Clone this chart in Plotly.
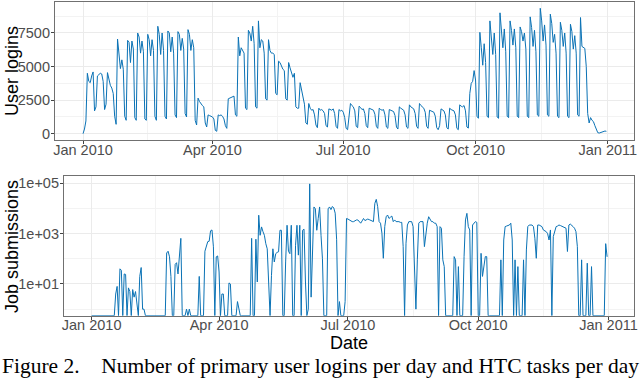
import pandas as pd
import plotly.graph_objects as go

# Daily values, 1 Jan 2010 (a Friday) to 31 Dec 2010, one week (Mon-Sun) per row

logins = [
    0, 350, 950,
    4500, 3900, 3800, 4300, 4600, 1700, 2000,   # Jan 4
    4300, 4400, 4500, 4450, 3900, 1800, 2200,
    4550, 4000, 3600, 3400, 3000, 1300, 700,
    7050, 5700, 4850, 5500, 4800, 1300, 1000,
    6950, 6800, 5300, 6900, 6300, 1200, 1000,   # Feb 1
    7500, 7200, 6000, 6900, 6100, 1100, 1000,
    7400, 7000, 5800, 7000, 6200, 1300, 1000,
    8000, 7400, 5900, 7500, 6200, 1300, 1100,
    7650, 7500, 6100, 7200, 6000, 1400, 1200,   # Mar 1
    7600, 7400, 6200, 7100, 6300, 1500, 1250,
    7750, 7400, 6200, 7000, 6400, 1000, 650,
    2650, 2400, 2200, 2100, 2000, 800, 500,
    1400, 1350, 1300, 1250, 1100, 250, 180,
    1400, 1350, 1400, 1300, 1100, 600, 400,     # Apr 5
    2600, 2650, 2700, 2750, 2800, 1400, 1300,
    7200, 5800, 6400, 6200, 6000, 1900, 1800,
    7700, 7500, 6900, 8000, 6700, 2000, 1900,
    8400, 6400, 7000, 6900, 6000, 2600, 2500,   # May 3
    7000, 6200, 6000, 6000, 5900, 3000, 2900,
    5400, 5300, 5000, 4800, 4700, 2600, 2500,
    5300, 4900, 4600, 4200, 4500, 2000, 1900,
    1900, 3800, 3200, 2600, 2200, 800, 700,
    2250, 1900, 1750, 1800, 1400, 650, 450,     # Jun 7
    1900, 1750, 1800, 1700, 1500, 600, 500,
    1850, 1800, 1750, 1850, 1500, 550, 400,
    1800, 1700, 1750, 1600, 1200, 400, 300,
    1300, 2250, 2100, 2000, 1700, 550, 450,     # Jul 5
    2050, 1950, 1800, 1850, 1500, 600, 450,
    1900, 1850, 1800, 1750, 1450, 550, 400,
    1900, 1800, 1750, 1800, 1400, 500, 400,
    1800, 1750, 1700, 1650, 1350, 500, 350,     # Aug 2
    2000, 1900, 1800, 1750, 1400, 500, 400,
    2150, 2000, 1900, 1850, 1500, 550, 400,
    2250, 2100, 2000, 1900, 1600, 550, 400,
    1750, 1700, 1650, 1600, 1300, 450, 300,
    600, 1850, 1800, 1700, 1400, 450, 350,      # Sep 6
    1900, 1800, 1750, 1700, 1400, 400, 300,
    2150, 2050, 2000, 2100, 1700, 500, 420,
    3000, 3750, 3900, 4700, 4000, 1300, 1150,
    7550, 6400, 5100, 6700, 5300, 1300, 1200,   # Oct 4
    8400, 7400, 5900, 7500, 5900, 1250, 1150,
    9000, 7900, 6400, 7800, 6100, 1300, 1200,
    8400, 7700, 6600, 7800, 6400, 1300, 1200,
    7950, 7600, 6900, 7500, 6300, 1300, 1200,   # Nov 1
    8700, 7900, 6500, 7700, 6100, 1400, 1300,
    9340, 8400, 6900, 8100, 6600, 1400, 1300,
    8900, 8200, 6800, 7400, 6000, 1300, 1200,
    8300, 7700, 6500, 7500, 6000, 1300, 1200,
    8150, 7600, 6300, 7300, 6000, 1400, 1300,   # Dec 6
    8650, 6500, 6400, 6350, 5000, 1500, 800,
    1200, 1000, 900, 600, 300, 80, 50,
    100, 100, 150, 200, 180,
]

# Job submissions per day, same dates (0 = none, drawn on the panel floor)
jobs = [
    0, 0, 0, 0, 0, 0, 0, 0, 0, 0, 0, 0, 0, 0, 0, 0, 0,                      # Jan 1-17
    4, 8, 0, 40, 35, 0, 25, 24, 0, 7, 5, 0, 6, 3, 5, 2, 0, 20, 45, 1, 1, 0,
    0, 0, 0, 0, 0, 0, 0, 0, 0, 0, 0, 0, 0, 0,
    170, 200, 120, 20, 0, 0, 60, 70, 25, 150, 650, 0,                       # late Feb
    0, 0, 1, 0, 1, 0, 0, 0, 0, 0, 0, 20, 0, 0, 0,
    200, 350, 480, 500, 1300, 1400, 300, 0, 120, 130, 30, 0, 4, 4, 0, 0, 0,
    11, 10, 0, 0, 0, 0, 2, 1, 0,
    0, 0, 0, 0, 0, 0, 0,
    650, 0, 0, 600,                                                        # late Apr
    12, 5400, 860, 1850, 1200, 860, 400, 250, 12, 0,
    22, 250, 75, 160, 180, 190, 1360, 1360, 0, 0,
    75, 2150, 200, 160, 2150, 0, 0, 345, 2150, 140,
    2150, 0, 1360, 1500, 12, 0, 1, 95000, 3, 630,
    11500, 9700, 1360, 4000, 11500, 860, 100, 0, 0, 0,
    9700, 11500, 9000, 12000, 10500, 6500, 600, 0, 2, 0,
    0, 0, 2, 4000, 3800, 3500, 3200, 3000, 3000, 3300,                     # July
    3500, 3500,
    3000, 2600, 3200, 4000, 3300, 3500, 3800, 3600, 3500,
    3200, 3000, 16000, 23000, 11800, 3000, 2600, 1040, 105, 1900,
    4700, 5500, 4000, 4500, 5000, 3000, 3500, 3000, 3000, 3000,
    2800, 2800, 305, 0, 415, 2200, 3000, 3000, 3000, 1900,                 # August
    91, 1, 91, 2600, 3000, 3000, 3000, 305, 1200, 2600,
    4700, 3800, 3000, 3000, 2600, 2600, 1900, 0, 1900, 1640,
    91, 49,
    0, 0, 0, 0, 0, 0,
    122, 91, 0,                                                            # mid Sep
    49, 0, 0, 0, 122, 3500, 6400, 1900, 1400, 0,
    2200, 2600, 3000, 2800, 0, 0, 165, 20, 67, 122,
    122, 0, 0, 0, 0, 0, 0, 0, 0, 0,
    91, 0, 560, 1900, 2000, 2100, 2200, 2600, 560, 0,
    91, 0, 49, 0, 0, 0, 91, 0, 225, 1900,
    2200, 2200, 2200, 1900, 660, 105, 2200, 2200, 2000, 1900,             # November
    1400, 1300, 1200, 1000, 560, 1400, 0, 760, 1400, 1900,
    2000, 2200, 2100, 2000, 1900, 1800, 1640, 195, 2200, 2400,
    2200, 1900, 1640, 1200, 305, 0, 0, 91, 0, 0,
    0, 67, 0, 0, 49, 0,
    0, 0, 0, 0, 0, 0, 0, 0,
    400, 120,
]

tick_dates = ["2010-01-01", "2010-04-01", "2010-07-01", "2010-10-01", "2011-01-01"]
tick_text = ["Jan 2010", "Apr 2010", "Jul 2010", "Oct 2010", "Jan 2011"]
login_ticks = [0, 2500, 5000, 7500]
login_minor = [1250, 3750, 6250, 8750]
job_ticks = [10, 1000, 100000]
job_tick_text = ["1e+01", "1e+03", "1e+05"]
job_minor = [1, 100, 10000]

W, H = 640, 378
dates = pd.date_range("2010-01-01", periods=len(logins), freq="D")

# minor x grid halfway between the quarter ticks (like ggplot)
td = pd.to_datetime(tick_dates)
x_minor = [td[i] + (td[i + 1] - td[i]) / 2 for i in range(len(td) - 1)]

x_range = ["2009-12-12 12:00", "2011-01-19 05:00"]
login_range = [-467, 9807]
job_range = [-0.26, 5.29]  # log10 units

# days with no submissions sit on the bottom of the log panel
jobs_plot = [v if v > 0 else 10 ** job_range[0] for v in jobs]

line_col = "#0A72B5"
border_col = "#707070"
tick_font = dict(family="Liberation Sans, Arial, sans-serif", size=14.5, color="#4D4D4D")
title_font = dict(family="Liberation Sans, Arial, sans-serif", size=18, color="black")

fig = go.Figure()
fig.add_trace(go.Scatter(x=dates, y=logins, mode="lines",
                         line=dict(color=line_col, width=1), xaxis="x", yaxis="y"))
fig.add_trace(go.Scatter(x=dates, y=jobs_plot, mode="lines",
                         line=dict(color=line_col, width=1), xaxis="x2", yaxis="y2"))

common_x = dict(
    type="date", range=x_range, tickmode="array", tickvals=tick_dates, ticktext=tick_text,
    tickfont=tick_font, ticks="outside", ticklen=3, tickcolor="#444444", ticklabelstandoff=-7,
    showline=True, linecolor=border_col, linewidth=1.2, mirror=True, automargin=False,
    showgrid=True, gridcolor="#EBEBEB", gridwidth=1, zeroline=False,
    minor=dict(tickmode="array", tickvals=x_minor, showgrid=True, gridcolor="#F3F3F3", gridwidth=0.6, ticks=""),
)
common_y = dict(
    tickfont=tick_font, ticks="outside", ticklen=3, tickcolor="#444444", ticklabelstandoff=-2,
    showline=True, linecolor=border_col, linewidth=1.2, mirror=True, automargin=False,
    showgrid=True, gridcolor="#EBEBEB", gridwidth=1, zeroline=False,
)

# the two panels are not aligned: the log panel's wider labels push it right
fig.update_layout(
    xaxis=dict(common_x, domain=[55 / W, 634 / W], anchor="y"),
    yaxis=dict(common_y, domain=[1 - 140 / H, 1 - 2 / H], range=login_range, anchor="x",
               tickmode="array", tickvals=login_ticks,
               minor=dict(tickmode="array", tickvals=login_minor, showgrid=True,
                          gridcolor="#F3F3F3", gridwidth=0.6, ticks="")),
    xaxis2=dict(common_x, domain=[64 / W, 634.3 / W], anchor="y2"),
    yaxis2=dict(common_y, domain=[1 - 315.7 / H, 1 - 176 / H], type="log", range=job_range,
                anchor="x2", tickmode="array", tickvals=job_ticks, ticktext=job_tick_text,
                minor=dict(tickmode="array", tickvals=job_minor, showgrid=True,
                           gridcolor="#F3F3F3", gridwidth=0.6, ticks="")),
)

# Titles and caption as annotations
annots = [
    dict(text="User logins", x=12 / W, y=1 - 71 / H, textangle=-90, font=title_font),
    dict(text="Job submissions", x=12 / W, y=1 - 247 / H, textangle=-90, font=title_font),
    dict(text="Date", x=349 / W, y=1 - 343 / H, font=title_font),
    dict(text="Figure 2.\u00a0\u00a0\u00a0\u00a0Number of primary user logins per day and HTC tasks per day",
         x=0.5, y=1 - 366 / H,
         font=dict(family="Liberation Serif, Times New Roman, serif", size=21.5, color="black")),
]
for a in annots:
    fig.add_annotation(xref="paper", yref="paper", showarrow=False,
                       xanchor="center", yanchor="middle", **a)

fig.update_layout(width=W, height=H, margin=dict(l=0, r=0, t=0, b=0, autoexpand=False),
                  paper_bgcolor="white", plot_bgcolor="white", showlegend=False)

# page body has an 8px default margin, drop it so the figure sits at the corner
fig.write_html("out.html", config={"displayModeBar": False},
               post_script="document.body.style.margin='0px';")
